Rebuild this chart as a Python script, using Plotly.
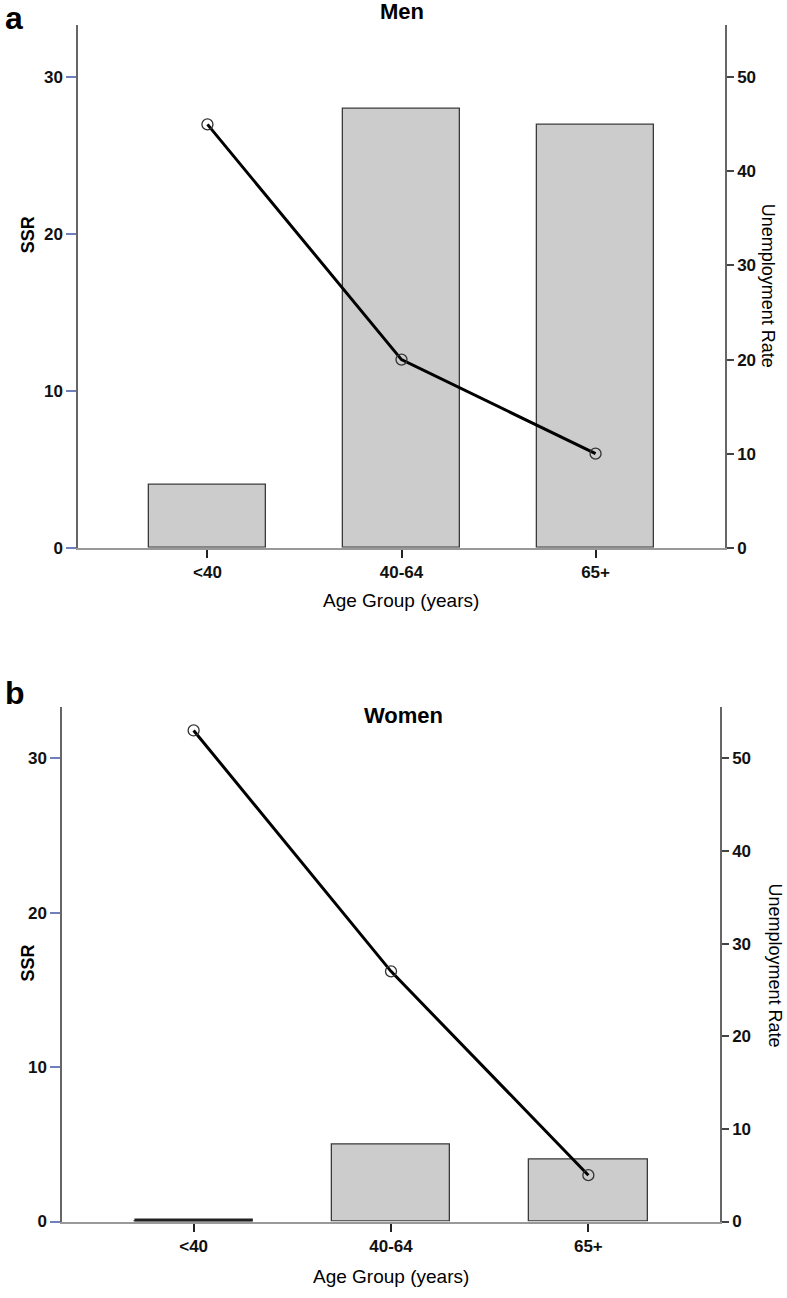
import plotly.graph_objects as go

categories = ["<40", "40-64", "65+"]
men_ssr = [4, 28, 27]
men_unemp = [45, 20, 10]
women_ssr = [0, 5, 4]
women_unemp = [53, 27, 5]
ssr_ticks = [0, 10, 20, 30]
unemp_ticks = [0, 10, 20, 30, 40, 50]

W, H = 787, 1298
BAR_W = 0.6
FONT = "Liberation Sans, Arial, sans-serif"
xpos = list(range(len(categories)))

fig = go.Figure()

panels = [
    dict(ssr=men_ssr, un=men_unemp, x="x", yl="y", yr="y2",
         xdom=[78 / W, 725 / W], ydom=[1 - 552 / H, 1 - 25 / H]),
    dict(ssr=women_ssr, un=women_unemp, x="x2", yl="y3", yr="y4",
         xdom=[62 / W, 720 / W], ydom=[1 - 1231 / H, 1 - 712 / H]),
]

for p in panels:
    fig.add_trace(go.Bar(x=xpos, y=p["ssr"], width=BAR_W, xaxis=p["x"], yaxis=p["yl"],
                         marker=dict(color="#cccccc", line=dict(color="#3a3a3a", width=1.3)),
                         showlegend=False))
    fig.add_trace(go.Scatter(x=xpos, y=p["un"], xaxis=p["x"], yaxis=p["yr"], mode="lines+markers",
                             line=dict(color="black", width=3),
                             marker=dict(symbol="circle-open", size=11, color="#333333",
                                         line=dict(width=1.3)),
                             showlegend=False))
    # zero-valued bars are drawn by SPSS as a dark line on the baseline
    for i, v in enumerate(p["ssr"]):
        if v == 0:
            fig.add_shape(type="line", xref=p["x"], yref=p["yl"],
                          x0=xpos[i] - BAR_W / 2, x1=xpos[i] + BAR_W / 2, y0=v, y1=v,
                          line=dict(color="#222222", width=6))

XR = [-0.667, 2.667]
LR = [0, 33.35]
RR = [0, 33.35 * 5 / 3]

TF = dict(family=FONT, size=17, color="#111111", weight="bold")

def xaxis(dom, anchor):
    return dict(domain=dom, anchor=anchor, range=XR, tickvals=xpos, ticktext=categories,
                showline=True, linecolor="#999999", linewidth=2, ticks="outside",
                ticklen=8, tickcolor="#222222", tickwidth=1.5, showgrid=False,
                zeroline=False, tickfont=TF)

def yleft(dom, anchor):
    return dict(domain=dom, anchor=anchor, range=LR, tickvals=ssr_ticks, showline=True,
                linecolor="#666666", linewidth=1.5, ticks="outside", ticklen=10,
                tickcolor="#6f7fc0", tickwidth=1.5, showgrid=False, zeroline=False,
                tickfont=TF)

def yright(overlay, anchor):
    return dict(overlaying=overlay, anchor=anchor, side="right", range=RR,
                tickvals=unemp_ticks, showline=True, linecolor="#666666", linewidth=1.5,
                ticks="outside", ticklen=7, tickcolor="#444444", tickwidth=1.5,
                showgrid=False, zeroline=False, tickfont=TF)

fig.update_layout(
    width=W, height=H, margin=dict(l=0, r=0, t=0, b=0),
    paper_bgcolor="white", plot_bgcolor="rgba(0,0,0,0)",
    xaxis=xaxis(panels[0]["xdom"], "y"),
    yaxis=yleft(panels[0]["ydom"], "x"),
    yaxis2=yright("y", "x"),
    xaxis2=xaxis(panels[1]["xdom"], "y3"),
    yaxis3=yleft(panels[1]["ydom"], "x2"),
    yaxis4=yright("y3", "x2"),
    bargap=0,
)

def ann(text, x, y, size, bold=False, angle=0, xanchor="center"):
    fig.add_annotation(text=f"<b>{text}</b>" if bold else text, x=x / W, y=1 - y / H,
                       xref="paper", yref="paper", showarrow=False, textangle=angle,
                       xanchor=xanchor, yanchor="middle",
                       font=dict(family=FONT, size=size, color="#000000"))

ann("a", 3, 18, 32, bold=True, xanchor="left")
ann("b", 3, 698, 32, bold=True, xanchor="left")
ann("Men", 402, 12, 22, bold=True)
ann("Women", 404, 721, 22, bold=True)
ann("SSR", 28, 237, 18, bold=True, angle=-90)
ann("SSR", 28, 971, 18, bold=True, angle=-90)
ann("Unemployment Rate", 768, 288, 18, angle=90)
ann("Unemployment Rate", 775, 973, 18, angle=90)
ann("Age Group (years)", 401, 605, 19)
ann("Age Group (years)", 391, 1286, 19)

fig.write_html("out.html", config={"displayModeBar": False},
               post_script="document.body.style.margin='0';document.body.style.overflow='hidden';")
